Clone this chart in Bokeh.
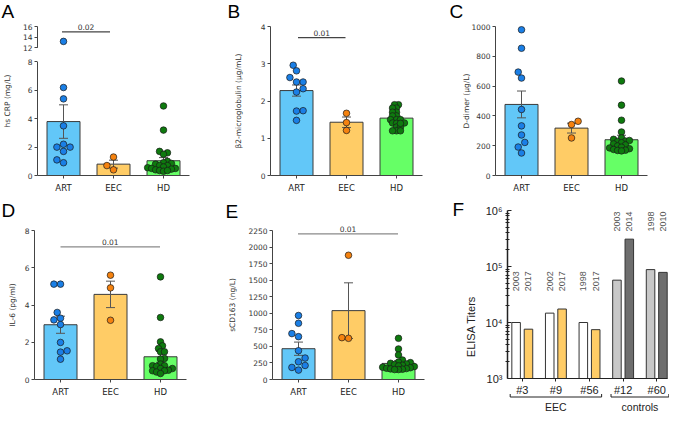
import math
from bokeh.plotting import figure
from bokeh.layouts import row, column
from bokeh.models import FixedTicker, Range1d
from bokeh.core.properties import value
from bokeh.embed import file_html
from bokeh.resources import INLINE

# ---------------- data ----------------
groups = ["ART", "EEC", "HD"]

# A: hs CRP (mg/L)
crp_art = [13.2, 6.2, 5.4, 3.5, 2.2, 2.0, 2.0, 1.7, 1.1, 0.9]
crp_eec = [1.3, 0.7, 0.4]
crp_hd = [4.9, 3.2, 1.7, 1.6, 1.5, 1.0, 0.9, 0.85, 0.8, 0.7, 0.7, 0.6, 0.55, 0.5, 0.5, 0.45, 0.4, 0.35, 0.3, 0.35]
crp_mean = [3.8, 0.8, 1.04]
crp_sem = [1.18, 0.28, 0.22]
crp_ticks = [0, 2, 4, 6, 8, 12, 14, 16]
crp_p = "0.02"

# B: beta2-microglobulin (ug/mL)
b2m_art = [2.96, 2.81, 2.63, 2.51, 2.51, 2.33, 2.24, 1.74, 1.73, 1.48]
b2m_eec = [1.67, 1.42, 1.21]
b2m_hd = [1.9, 1.9, 1.81, 1.81, 1.7, 1.7, 1.6, 1.6, 1.5, 1.5, 1.5, 1.41, 1.41, 1.4, 1.3, 1.3, 1.2, 1.2, 1.2, 1.4]
b2m_mean = [2.28, 1.43, 1.54]
b2m_sem = [0.15, 0.14, 0.05]
b2m_ticks = [0, 1, 2, 3, 4]
b2m_p = "0.01"

# C: D-dimer (ug/L)
dd_art = [978, 854, 694, 654, 443, 333, 272, 222, 191, 151]
dd_eec = [364, 342, 252]
dd_hd = [634, 472, 371, 292, 252, 243, 231, 235, 228, 220, 212, 205, 198, 190, 185, 180, 175, 170, 168, 165]
dd_mean = [477, 318, 240]
dd_sem = [90, 33, 30]
dd_ticks = [0, 200, 400, 600, 800, 1000]

# D: IL-6 (pg/ml)
il6_art = [5.12, 5.12, 3.6, 3.29, 3.2, 2.95, 1.99, 1.54, 1.47, 1.09]
il6_eec = [5.6, 4.92, 3.18]
il6_hd = [5.51, 3.33, 2.02, 1.81, 1.66, 1.49, 1.49, 1.13, 1.1, 0.83, 0.74, 0.74, 0.7, 0.59, 0.59, 0.5, 0.47, 0.47, 0.4, 0.32]
il6_mean = [2.94, 4.57, 1.22]
il6_sem = [0.46, 0.71, 0.3]
il6_ticks = [0, 2, 4, 6, 8]
il6_p = "0.01"

# E: sCD163 (ng/L)
cd163_art = [966, 849, 693, 647, 435, 324, 268, 212, 182, 142]
cd163_eec = [1876, 632, 622]
cd163_hd = [622, 461, 370, 294, 262, 255, 245, 235, 225, 215, 205, 195, 185, 178, 170, 165, 160, 155, 150, 150]
cd163_mean = [465, 1040, 243]
cd163_sem = [100, 420, 40]
cd163_ticks = [0, 250, 500, 750, 1000, 1250, 1500, 1750, 2000, 2250]
cd163_p = "0.01"

# F: ELISA titers
f_ids = ["#3", "#9", "#56", "#12", "#60"]
f_group = ["EEC", "EEC", "EEC", "controls", "controls"]
f_year_a = ["2003", "2002", "1998", "2003", "1998"]
f_year_b = ["2017", "2017", "2017", "2014", "2010"]
f_titer_a = [10000, 14700, 10000, 57000, 88000]
f_titer_b = [7600, 17400, 7450, 308000, 78500]
f_yticks = [1e3, 1e4, 1e5, 1e6]
f_ytick_text = ["10³", "10⁴", "10⁵", "10⁶"]

# ---------------- style ----------------
FONT = "DejaVu Sans"
LFONT = "Liberation Sans"
XR = (0.48, 3.52)
FW, FH = 152, 149
BAR_FILL = ["#62C7F8", "#FFCC66", "#66FF66"]
DOT_FILL = ["#1A7FE6", "#F5820F", "#0E7A0E"]
AXC = "#444444"


class Geo:
    """Maps figure-pixel positions to data for a figure whose plot area fills it."""
    def __init__(self, W, H, L, T, fw, fh, x0, x1, y0, y1, log=False):
        self.log = log
        self.W, self.H = W, H
        self.px = fw / (x1 - x0)
        ly0, ly1 = (math.log10(y0), math.log10(y1)) if log else (y0, y1)
        self.py = fh / (ly1 - ly0)
        self.xs = x0 - L / self.px
        self.xe = x0 + (W - L) / self.px
        self.lye = ly1 + T / self.py

    def X(self, fx):
        return self.xs + fx / self.px

    def Y(self, fy):
        v = self.lye - fy / self.py
        return 10 ** v if self.log else v


def swarm(vals, py, px, d=6.6):
    n = len(vals)
    sep = 0.95 * d if n <= 10 else 0.55 * d
    step = 0.5 * d if n <= 10 else 0.3 * d
    idx = sorted(range(n), key=lambda i: vals[i])
    placed = []
    offs = [0.0] * n
    for k, i in enumerate(idx):
        y = vals[i] * py
        sgn = 1 if k % 2 == 0 else -1
        cands = [0.0]
        for j in range(1, 40):
            cands += [sgn * j * step, -sgn * j * step]
        c = 0.0
        for c in cands:
            if all((c - xo) ** 2 + (y - yo) ** 2 >= sep ** 2 for xo, yo in placed):
                break
        placed.append((c, y))
        offs[i] = c / px
    return offs


def base_fig(g, **kw):
    p = figure(width=g.W, height=g.H, x_range=Range1d(g.xs, g.xe),
               y_range=Range1d(g.Y(g.H), g.Y(0)),
               output_backend="svg", toolbar_location=None, min_border=0, **kw)
    p.min_border_left = p.min_border_right = p.min_border_top = p.min_border_bottom = 0
    p.outline_line_color = None
    p.grid.visible = False
    p.background_fill_color = "white"
    p.border_fill_color = "white"
    return p


def txt(p, x, y, s, size, font=FONT, color="#333333", align="center", base="middle", angle=0.0):
    p.text(x=[x], y=[y], text=[s], angle=angle, text_align=align, text_baseline=base,
           text_font=value(font), text_font_size=size, text_color=color)


def style_axis(ax, size, font=FONT, color="#333333"):
    ax.axis_line_color = None
    ax.major_tick_line_color = AXC
    ax.minor_tick_line_color = None
    ax.major_tick_in = 0
    ax.major_tick_out = 3
    ax.major_label_text_font = font
    ax.major_label_text_font_size = size
    ax.major_label_text_color = color
    ax.major_label_standoff = 2


def bar_panel(letter, ylabel, series, means, sems, ymax, tick_vals, tick_text,
              sig, W, H, L, T, letter_xy, label_x, tf=lambda v: v, ybreak=None):
    g = Geo(W, H, L, T, FW, FH, XR[0], XR[1], 0, tf(ymax))
    p = base_fig(g)
    xs = [1, 2, 3]
    p.vbar(x=xs, width=0.66, top=[tf(m) for m in means], bottom=0,
           fill_color=BAR_FILL, line_color="#3a3a3a", line_width=1)
    lo = [tf(m - s) for m, s in zip(means, sems)]
    hi = [tf(m + s) for m, s in zip(means, sems)]
    cw = 4.5 / g.px
    p.segment(x0=xs, y0=lo, x1=xs, y1=hi, line_color="#555555", line_width=1)
    p.segment(x0=[x - cw for x in xs], y0=hi, x1=[x + cw for x in xs], y1=hi,
              line_color="#555555", line_width=1)
    p.segment(x0=[x - cw for x in xs], y0=lo, x1=[x + cw for x in xs], y1=lo,
              line_color="#555555", line_width=1)
    for gi, vals in enumerate(series):
        tv = [tf(v) for v in vals]
        offs = swarm(tv, g.py, g.px)
        p.scatter(x=[gi + 1 + o for o in offs], y=tv, size=6.6,
                  fill_color=DOT_FILL[gi], line_color="#1a1a1a", line_width=0.7)
    if sig is not None:
        x0, x1, ys, s, col = sig
        p.segment(x0=[x0], y0=[tf(ys)], x1=[x1], y1=[tf(ys)], line_color=col, line_width=1.2)
        txt(p, (x0 + x1) / 2, tf(ys) + 1.5 / g.py, s, "7.5px", base="bottom")
    # axis lines (drawn over the plot area, which fills the figure)
    if ybreak is None:
        p.segment(x0=[XR[0]], y0=[0], x1=[XR[0]], y1=[tf(ymax)], line_color=AXC, line_width=1)
    else:
        p.segment(x0=[XR[0], XR[0]], y0=[0, tf(ybreak[1])], x1=[XR[0], XR[0]],
                  y1=[tf(ybreak[0]), tf(ymax)], line_color=AXC, line_width=1)
    p.segment(x0=[XR[0]], y0=[0], x1=[XR[1]], y1=[0], line_color=AXC, line_width=1)
    xa = p.xaxis[0]
    xa.fixed_location = 0
    xa.ticker = FixedTicker(ticks=xs, minor_ticks=[])
    xa.major_label_overrides = {i + 1: gname for i, gname in enumerate(groups)}
    style_axis(xa, "8.5px", color="#222222")
    xa.major_label_standoff = 4
    ya = p.yaxis[0]
    ya.fixed_location = XR[0]
    tpos = [tf(t) for t in tick_vals]
    ya.ticker = FixedTicker(ticks=tpos, minor_ticks=[])
    ya.major_label_overrides = {tp: tt for tp, tt in zip(tpos, tick_text)}
    style_axis(ya, "7.5px")
    # y label and panel letter
    txt(p, g.X(label_x), g.Y(T + FH / 2), ylabel, "7.5px", angle=math.pi / 2)
    txt(p, g.X(letter_xy[0]), g.Y(letter_xy[1]), letter, "19px", font=LFONT,
        color="black", align="left", base="top")
    return p


# ---- A (broken axis) ----
def crp_t(v):
    return v if v <= 8 else 9 + (v - 12) * 0.375


pA = bar_panel("A", "hs CRP (mg/L)", [crp_art, crp_eec, crp_hd], crp_mean, crp_sem,
               16, crp_ticks, [str(t) for t in crp_ticks],
               (0.97, 1.93, 15, crp_p, "#444444"), 222, 198, 37, 26, (1, 0), 7,
               tf=crp_t, ybreak=(8, 12))

pB = bar_panel("B", "β2-microglobulin (µg/mL)", [b2m_art, b2m_eec, b2m_hd], b2m_mean, b2m_sem,
               4, b2m_ticks, [str(t) for t in b2m_ticks],
               (1.03, 1.98, 3.7, b2m_p, "#444444"), 225, 198, 48, 26, (5, 0), 16)

pC = bar_panel("C", "D-dimer (µg/L)", [dd_art, dd_eec, dd_hd], dd_mean, dd_sem,
               1000, dd_ticks, [str(t) for t in dd_ticks],
               None, 222, 198, 48, 26, (2, 0), 19)

pD = bar_panel("D", "IL-6 (pg/ml)", [il6_art, il6_eec, il6_hd], il6_mean, il6_sem,
               8, il6_ticks, [str(t) for t in il6_ticks],
               (1.0, 2.99, 7.12, il6_p, "#8a8a8a"), 222, 214, 34, 32, (1, 1), 12)

pE = bar_panel("E", "sCD163 (ng/L)", [cd163_art, cd163_eec, cd163_hd], cd163_mean, cd163_sem,
               2250, cd163_ticks, [str(t) for t in cd163_ticks],
               (0.99, 2.99, 2200, cd163_p, "#8a8a8a"), 225, 214, 50, 32, (3, 2), 10)

# ---- F ----
FX0, FX1 = -0.44, 4.32
gF = Geo(222, 214, 60, 12, 160, 168, FX0, FX1, 1e3, 1e6, log=True)
pF = base_fig(gF, y_axis_type="log")
fx = list(range(len(f_ids)))
boff = 0.184
bw = 0.254
col_a = ["white" if gname == "EEC" else "#C8C8C8" for gname in f_group]
col_b = ["#FFCC66" if gname == "EEC" else "#6E6E6E" for gname in f_group]
pF.vbar(x=[x - boff for x in fx], width=bw, top=f_titer_a, bottom=1e3,
        fill_color=col_a, line_color="#333333", line_width=1)
pF.vbar(x=[x + boff for x in fx], width=bw, top=f_titer_b, bottom=1e3,
        fill_color=col_b, line_color="#333333", line_width=1)
lab_base = {"EEC": 3.6e4, "controls": 4.2e5}
lab_y = [lab_base[gname] for gname in f_group]
for xs_, yrs in ((-boff, f_year_a), (boff, f_year_b)):
    pF.text(x=[x + xs_ for x in fx], y=lab_y, text=yrs, angle=math.pi / 2,
            text_align="left", text_baseline="middle", text_font=value(LFONT),
            text_font_size="9px", text_color="#555555")
# axis lines
pF.segment(x0=[FX0], y0=[1e3], x1=[FX0], y1=[1e6], line_color="#222222", line_width=1.5)
pF.segment(x0=[FX0], y0=[1e3], x1=[FX1], y1=[1e3], line_color="#222222", line_width=1.2)
fxa = pF.xaxis[0]
fxa.fixed_location = 1e3
fxa.ticker = FixedTicker(ticks=fx, minor_ticks=[])
fxa.major_label_overrides = {i: s for i, s in zip(fx, f_ids)}
style_axis(fxa, "11px", font=LFONT, color="#222222")
fxa.major_tick_line_color = "#222222"
fya = pF.yaxis[0]
fya.fixed_location = FX0
fminor = [k * 10 ** e for e in (3, 4, 5) for k in range(2, 10)]
fya.ticker = FixedTicker(ticks=f_yticks, minor_ticks=fminor)
fya.major_label_overrides = {t: s for t, s in zip(f_yticks, f_ytick_text)}
style_axis(fya, "11px", font=LFONT, color="#222222")
fya.major_tick_in = 4
fya.major_tick_out = 0
fya.minor_tick_in = 2
fya.minor_tick_out = 2
fya.major_tick_line_color = "#222222"
fya.minor_tick_line_color = "#222222"
fya.major_label_standoff = 3

# group brackets below the axis
yb = gF.Y(198.5)
yt = gF.Y(195.5)
yl = gF.Y(208.5)
for gname in ("EEC", "controls"):
    members = [i for i, gg in enumerate(f_group) if gg == gname]
    x0 = min(members) - 0.36
    x1 = max(members) + 0.36
    pF.segment(x0=[x0, x0, x1], y0=[yb, yb, yb], x1=[x1, x0, x1], y1=[yb, yt, yt],
               line_color="#222222", line_width=1)
    txt(pF, (min(members) + max(members)) / 2, yl, gname, "10.5px", font=LFONT, color="#222222")
txt(pF, gF.X(23), gF.Y(128), "ELISA Titers", "11px", font=LFONT, color="#222222", angle=math.pi / 2)
txt(pF, gF.X(5), gF.Y(0), "F", "19px", font=LFONT, color="black", align="left", base="top")

layout = column(row(pA, pB, pC), row(pD, pE, pF))
open("out.html", "w").write(file_html(layout, INLINE, "Figure"))
